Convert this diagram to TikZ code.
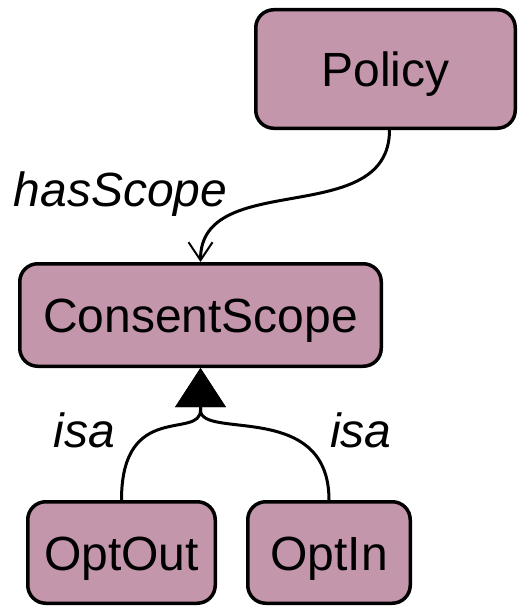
\documentclass[tikz,border=0pt]{standalone}
\usepackage{fontspec}
\setmainfont{Liberation Sans}
\usetikzlibrary{arrows.meta}
\definecolor{classfill}{RGB}{196,150,172}

\begin{document}
\begin{tikzpicture}[x=1pt,y=-1pt,
  cls/.style={draw=black, line width=3.5pt, fill=classfill,
    rounded corners=18pt, inner sep=0pt,
    text height=35pt, text depth=0pt,
    font=\fontsize{48}{56}\selectfont},
  rel/.style={font=\fontsize{48}{56}\selectfont\itshape,
    inner sep=0pt, anchor=base},
  link/.style={line width=3pt},
  hasarrow/.style={-{Straight Barb[length=18pt,width=24pt,line width=2pt]}},
  isaarrow/.style={-{Triangle[length=39pt,width=50pt]}},
]
\useasboundingbox (0,0) rectangle (519,607);

% classes
\node[cls, minimum width=259.5pt, minimum height=118.5pt] (policy) at (385.5,69) {Policy};
\node[cls, minimum width=361.5pt, minimum height=102.5pt] (scope) at (200.5,315) {ConsentScope};
\node[cls, minimum width=187.5pt, minimum height=101.5pt] (optout) at (121.5,552.5) {OptOut};
\node[cls, minimum width=162.5pt, minimum height=101.5pt] (optin) at (329,552.5) {OptIn};

% property link
\draw[link, hasarrow] ([xshift=4pt]policy.south)
  .. controls +(0,100) and (200.5,168) .. (scope.north);
\node[rel] (lhas) at (120.5,206.7) {hasScope};

% subclass links meet below the shared triangle head
\coordinate (isabase) at (200.5,410);
\draw[link, isaarrow] (optout.north)
  .. controls +(0,-100) and (200.5,440) .. (isabase) -- (scope.south);
\draw[link, isaarrow] (optin.north)
  .. controls +(0,-100) and (200.5,440) .. (isabase) -- (scope.south);
\node[rel] (lisa1) at (84.5,447) {isa};
\node[rel] (lisa2) at (361,447) {isa};
\end{tikzpicture}
\end{document}
